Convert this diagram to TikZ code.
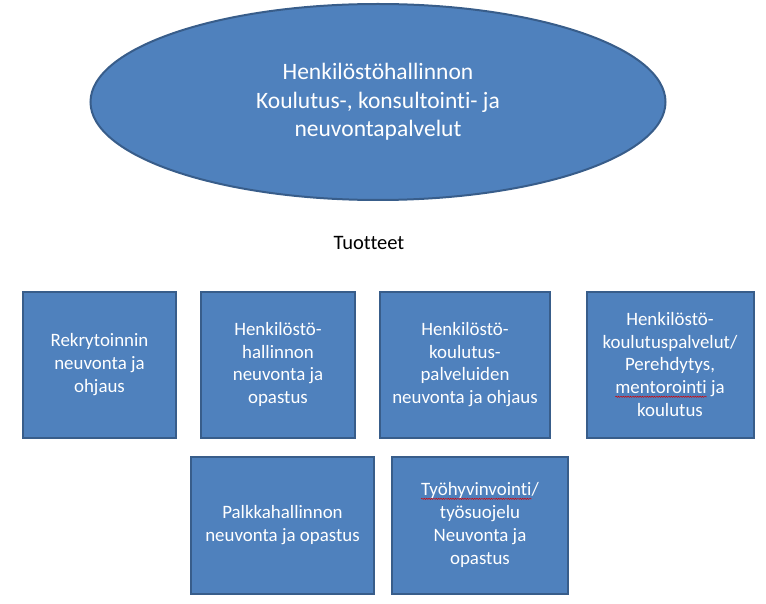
\documentclass[tikz,border=0pt]{standalone}
\usepackage{fontspec}
\setmainfont{Carlito}[Ligatures=CommonOff]
\usetikzlibrary{shapes.geometric,decorations.pathmorphing}
\newsavebox\wavebox
\newlength\wavelen
\newcommand\redwave[1]{\sbox\wavebox{#1}\setlength\wavelen{\wd\wavebox}\leavevmode\tikz[baseline=0pt,overlay]\draw[red!85!black,line width=0.5pt,decorate,decoration={snake,amplitude=0.6pt,segment length=2.4pt}] (0pt,-3pt) -- (\wavelen,-3pt);\usebox\wavebox}
\definecolor{boxfill}{HTML}{4F81BD}
\definecolor{boxline}{HTML}{385D8A}
\tikzset{
  pbox/.style={draw=boxline, fill=boxfill, line width=2pt, text=white, align=center,
    inner sep=0pt, font=\fontsize{18.9}{22.8}\selectfont},
  oval/.style={ellipse, draw=boxline, fill=boxfill, line width=2pt, text=white, align=center,
    inner sep=0pt, font=\fontsize{23.5}{28.5}\selectfont}
}
\begin{document}
\begin{tikzpicture}[x=1pt,y=-1pt]
\useasboundingbox (0,0) rectangle (766,604);
\node[oval, minimum width=575pt, minimum height=196pt] (main) at (378,102)
  {Henkilöstöhallinnon\\Koulutus-, konsultointi- ja\\neuvontapalvelut};
\node[font=\fontsize{20.5}{24}\selectfont] (tuot) at (369,243) {Tuotteet};
\node[pbox, minimum width=153pt, minimum height=146pt] (b1) at (99.5,364.5)
  {Rekrytoinnin\\neuvonta ja\\ohjaus};
\node[pbox, minimum width=154pt, minimum height=146pt] (b2) at (278,364.5)
  {Henkilöstö-\\hallinnon\\neuvonta ja\\opastus};
\node[pbox, minimum width=170pt, minimum height=146pt] (b3) at (465,364.5)
  {Henkilöstö-\\koulutus-\\palveluiden\\neuvonta ja ohjaus};
\node[pbox, minimum width=167pt, minimum height=146pt] (b4) at (670,364.5)
  {Henkilöstö-\\koulutuspalvelut/\\Perehdytys,\\\redwave{mentorointi} ja\\koulutus};
\node[pbox, minimum width=183pt, minimum height=137pt] (b5) at (282.5,525)
  {Palkkahallinnon\\neuvonta ja opastus};
\node[pbox, minimum width=176pt, minimum height=137pt] (b6) at (480,525)
  {\redwave{Työhyvinvointi}/\\työsuojelu\\Neuvonta ja\\opastus};
\end{tikzpicture}
\end{document}
